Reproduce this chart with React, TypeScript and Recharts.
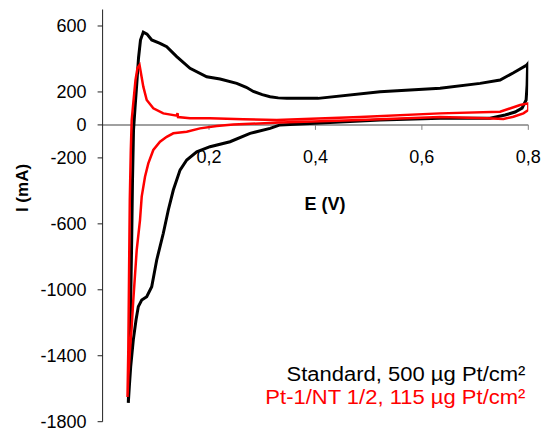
import React from 'react';
import {
  LineChart,
  Line,
  XAxis,
  YAxis,
  ReferenceLine
} from 'recharts';

// Standard, 500 µg Pt/cm² (black loop in sweep order)
const stdPotential = [
  0.0483, 0.0506, 0.0528, 0.0547, 0.0562, 0.0581, 0.0609, 0.0647, 0.0675, 0.0712,
  0.0765, 0.0835, 0.0923, 0.1079, 0.1205, 0.1393, 0.1643, 0.1957, 0.2207, 0.2521,
  0.2700, 0.2833, 0.3000, 0.3147, 0.3300, 0.3461, 0.4049, 0.5214, 0.6342, 0.7094,
  0.747, 0.7714, 0.7972, 0.7987, 0.7977, 0.7959, 0.7883, 0.7752, 0.7564, 0.7282,
  0.6342, 0.5214, 0.4838, 0.4086, 0.3335, 0.3147, 0.2771, 0.2395, 0.2019, 0.1769,
  0.1581, 0.1455, 0.1329, 0.1235, 0.1141, 0.1017, 0.0923, 0.0829, 0.0735, 0.0671,
  0.0628, 0.0577, 0.0528, 0.0502, 0.0483
];
const stdCurrent = [
  -1686, -1426, -1062, -698, -334, -31, 102, 272, 406, 515,
  563, 551, 515, 495, 474, 414, 343, 292, 278, 252,
  228, 203, 184, 171, 164, 161, 161, 201, 222, 252,
  272, 315, 363, 369, 242, 151, 102, 78, 60, 40,
  40, 30, 24, 12, 0, -21, -51, -102, -132, -163,
  -213, -274, -395, -516, -657, -819, -981, -1042, -1062, -1102,
  -1183, -1304, -1466, -1588, -1686
];

// Pt-1/NT 1/2, 115 µg Pt/cm² (red loop)
const ptPotential = [
  0.0468, 0.0483, 0.0496, 0.0511, 0.053, 0.0547, 0.0577, 0.0618, 0.0656, 0.0694,
  0.0765, 0.0829, 0.0953, 0.1141, 0.1393, 0.1408, 0.1417, 0.1643, 0.2019, 0.2645,
  0.3273, 0.4838, 0.6342, 0.747, 0.7846, 0.8, 0.8, 0.7908, 0.772, 0.7532,
  0.722, 0.6342, 0.4838, 0.3335, 0.2457, 0.2145, 0.1831, 0.1581, 0.1329, 0.1205,
  0.1079, 0.0953, 0.0859, 0.0797, 0.0735, 0.0703, 0.0641, 0.0577, 0.0547, 0.0515,
  0.0483, 0.0468
];
const ptCurrent = [
  -1650, -1365, -941, -455, -152, 30, 133, 272, 345, 363,
  232, 151, 101, 70, 56, 72, 48, 40, 40, 34,
  30, 48, 70, 80, 121, 131, 90, 70, 50, 36,
  40, 48, 30, 15, 2, -7, -21, -41, -51, -72,
  -102, -152, -233, -314, -435, -577, -759, -1062, -1224, -1365,
  -1527, -1650
];

const xTicks = [0.2, 0.4, 0.6, 0.8];
const yTicks = [-1800, -1400, -1000, -600, -200, 0, 200, 600];

const legendItems = [
  { label: 'Standard, 500 µg Pt/cm²', color: '#000000' },
  { label: 'Pt-1/NT 1/2, 115 µg Pt/cm²', color: '#ff0000' }
];

const stdData = stdPotential.map((e, k) => ({ e, i: stdCurrent[k] }));
const ptData = ptPotential.map((e, k) => ({ e, i: ptCurrent[k] }));

const FONT = '"Liberation Sans", Arial, sans-serif';

const fmtX = (v: number) => v.toFixed(1).replace('.', ',');

const App: React.FC = () => {
  return (
    <div style={{ position: 'absolute', left: 0, top: 0, width: 541, height: 432, fontFamily: FONT }}>
      <LineChart
        width={541}
        height={432}
        margin={{ top: 9.5, right: 12.7, bottom: 10.3, left: 42.6 }}
      >
        <XAxis type="number" dataKey="e" domain={[0, 0.8]} hide allowDataOverflow />
        <YAxis
          type="number"
          width={60}
          domain={[-1800, 700]}
          ticks={yTicks}
          interval={0}
          allowDataOverflow
          axisLine={{ stroke: '#222', strokeWidth: 1 }}
          tickLine={{ stroke: '#222' }}
          tickSize={5}
          tickMargin={11}
          tick={{ fill: '#000', fontSize: 18, fontFamily: FONT }}
        />
        <ReferenceLine y={0} stroke="#808080" strokeWidth={1.5} />
        {xTicks.map((t) => (
          <ReferenceLine
            key={t}
            segment={[{ x: t, y: 0 }, { x: t, y: -30 }]}
            stroke="#808080"
            strokeWidth={1}
            label={{
              value: fmtX(t),
              position: 'bottom',
              offset: 20,
              fill: '#000',
              fontSize: 18,
              fontFamily: FONT
            }}
          />
        ))}
        <Line
          data={stdData}
          dataKey="i"
          type="linear"
          stroke="#000000"
          strokeWidth={3}
          dot={false}
          isAnimationActive={false}
        />
        <Line
          data={ptData}
          dataKey="i"
          type="linear"
          stroke="#ff0000"
          strokeWidth={2.5}
          dot={false}
          isAnimationActive={false}
        />
      </LineChart>

      {/* titres des axes */}
      <div
        style={{
          position: 'absolute', left: 325, top: 204, transform: 'translate(-50%, -50%)',
          fontWeight: 'bold', fontSize: 18, lineHeight: 1, whiteSpace: 'nowrap'
        }}
      >
        E (V)
      </div>
      <div
        style={{
          position: 'absolute', left: 22, top: 188, transform: 'translate(-50%, -50%) rotate(-90deg)',
          fontWeight: 'bold', fontSize: 17, lineHeight: 1, whiteSpace: 'nowrap'
        }}
      >
        I (mA)
      </div>

      {/* légende */}
      <div
        style={{
          position: 'absolute', right: 16, top: 363, textAlign: 'right', fontSize: 20, lineHeight: '23px',
          transform: 'scaleX(1.1)', transformOrigin: 'right center'
        }}
      >
        {legendItems.map((it) => (
          <div key={it.label} style={{ color: it.color, whiteSpace: 'nowrap' }}>{it.label}</div>
        ))}
      </div>
    </div>
  );
};

export default App;
